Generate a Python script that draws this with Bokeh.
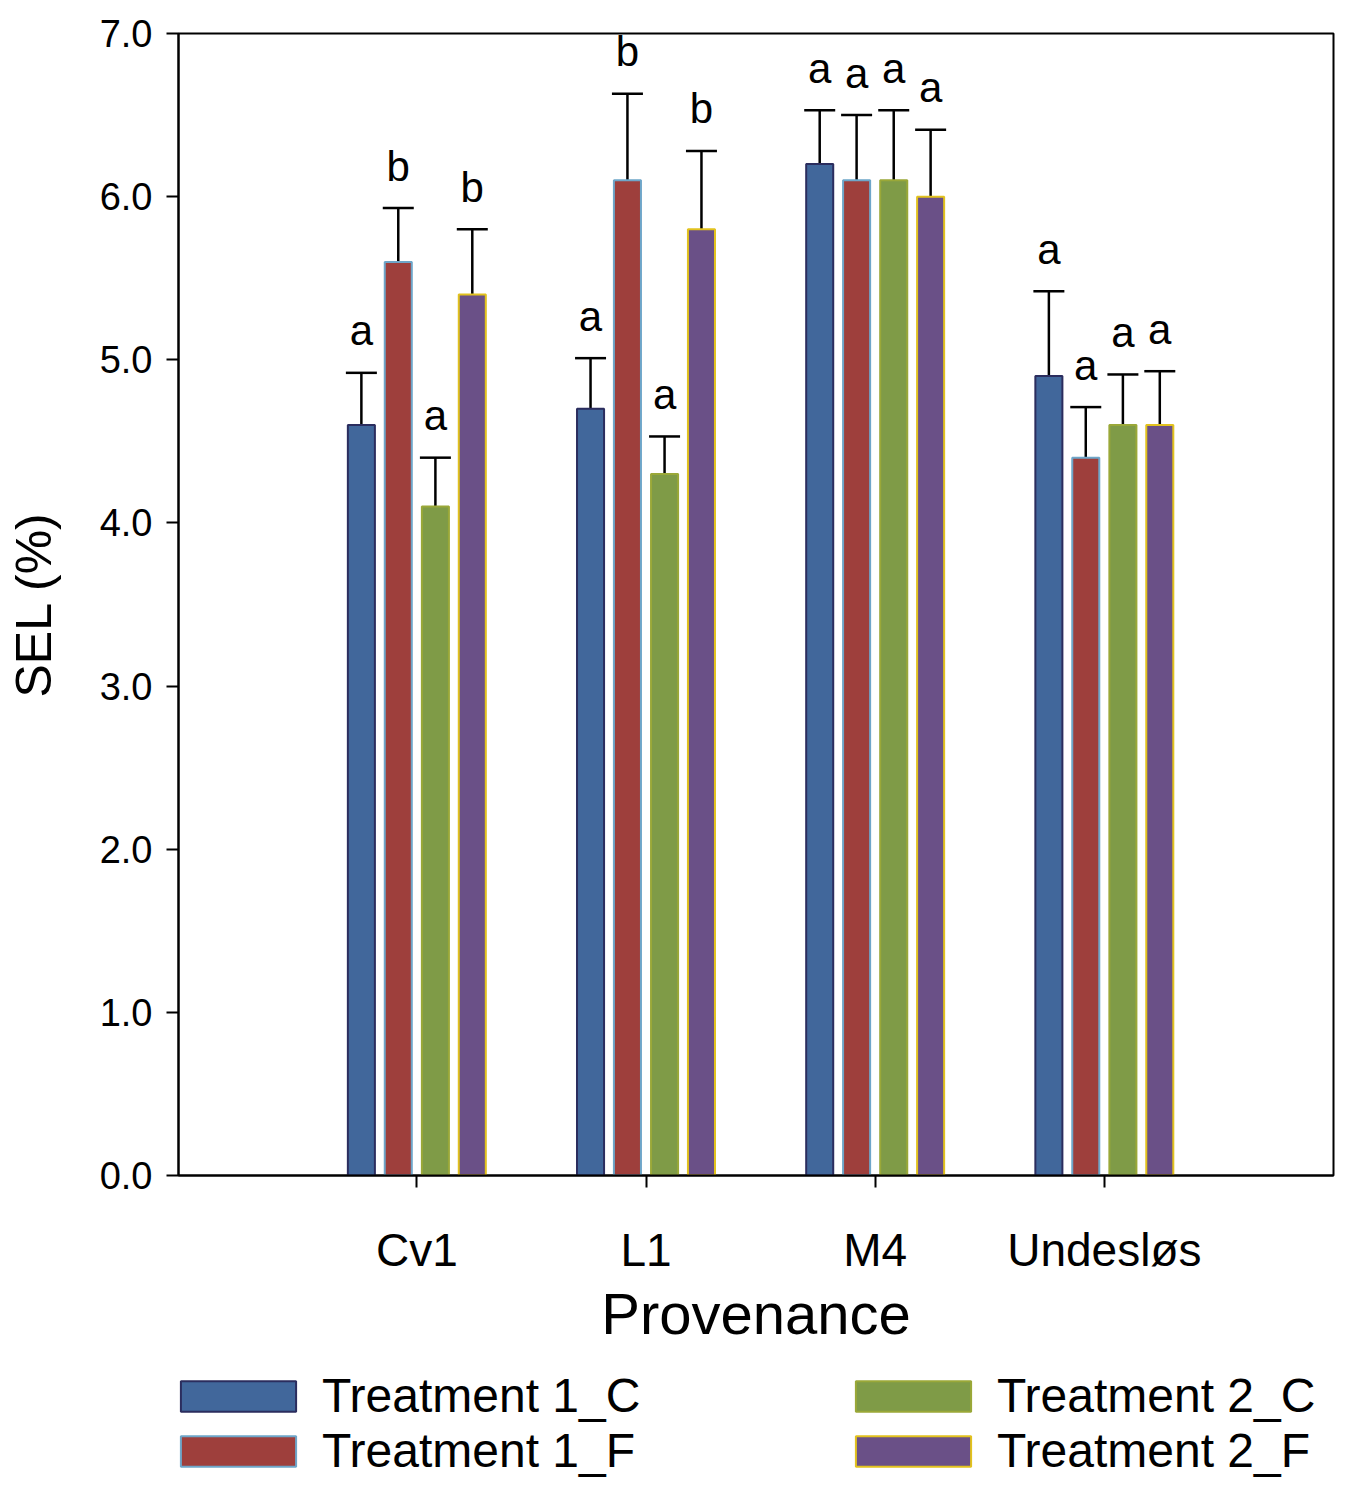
from bokeh.plotting import figure
from bokeh.layouts import column
from bokeh.models import (ColumnDataSource, Range1d, FixedTicker, Whisker, TeeHead,
                          Legend, LegendItem, NumeralTickFormatter)
from bokeh.transform import dodge
from bokeh.core.properties import value
from bokeh.embed import file_html
from bokeh.resources import INLINE

categories = ["Cv1", "L1", "M4", "Undesløs"]
treatments = ["Treatment 1_C", "Treatment 1_F", "Treatment 2_C", "Treatment 2_F"]

t1_c = [4.6, 4.7, 6.2, 4.9]
t1_f = [5.6, 6.1, 6.1, 4.4]
t2_c = [4.1, 4.3, 6.1, 4.6]
t2_f = [5.4, 5.8, 6.0, 4.6]

t1_c_err = [0.32, 0.31, 0.33, 0.52]
t1_f_err = [0.33, 0.53, 0.40, 0.31]
t2_c_err = [0.30, 0.23, 0.43, 0.31]
t2_f_err = [0.40, 0.48, 0.41, 0.33]

t1_c_letters = ["a", "a", "a", "a"]
t1_f_letters = ["b", "b", "a", "a"]
t2_c_letters = ["a", "a", "a", "a"]
t2_f_letters = ["b", "b", "a", "a"]

y_ticks = [0, 1, 2, 3, 4, 5, 6, 7]

series = [
    (t1_c, t1_c_err, t1_c_letters, "#41679b", "#2b2d5e", -0.242),
    (t1_f, t1_f_err, t1_f_letters, "#9e3f3c", "#6ea6c9", -0.081),
    (t2_c, t2_c_err, t2_c_letters, "#7f9b47", "#9aa838", 0.081),
    (t2_f, t2_f_err, t2_f_letters, "#6a5087", "#e2c21e", 0.242),
]

FONT = "Liberation Sans"

p = figure(width=1345, height=1351, output_backend="svg", toolbar_location=None,
           x_range=Range1d(-0.04, 5.0), y_range=Range1d(0, 7),
           min_border_left=178, min_border_right=12, min_border_top=33,
           min_border_bottom=176)
p.grid.visible = False
p.outline_line_color = "black"
p.outline_line_width = 2
p.background_fill_color = "white"
p.border_fill_color = "white"

# legend figure: swatches only (its renderers are hidden)
lg = figure(width=1345, height=137, output_backend="svg", toolbar_location=None,
            x_range=Range1d(0, 1), y_range=Range1d(0, 1),
            min_border_left=0, min_border_right=0,
            min_border_top=0, min_border_bottom=0)
lg.axis.visible = False
lg.grid.visible = False
lg.outline_line_color = None

pos = list(range(1, len(categories) + 1))
items = []
for (vals, errs, letters, fill, line, off), name in zip(series, treatments):
    upper = [v + e for v, e in zip(vals, errs)]
    src = ColumnDataSource(dict(pos=pos, top=vals, upper=upper, letters=letters))
    p.vbar(x=dodge("pos", off), top="top", bottom=0, width=0.118, source=src,
           fill_color=fill, line_color=line, line_width=2)
    w = Whisker(source=src, base=dodge("pos", off), lower="top", upper="upper",
                dimension="height", line_color="black", line_width=2.5,
                lower_head=None,
                upper_head=TeeHead(size=31, line_color="black", line_width=2.5))
    p.add_layout(w)
    p.text(x=dodge("pos", off), y="upper", text="letters", source=src,
           text_align="center", text_baseline="alphabetic", y_offset=-42,
           text_font=value(FONT), text_font_size="42px", text_color="black")
    r = lg.vbar(x=dodge("pos", off), top="top", bottom=0, width=0.118, source=src,
                fill_color=fill, line_color=line, line_width=2, visible=False)
    items.append(LegendItem(label=name, renderers=[r]))

# axes
p.xaxis.ticker = FixedTicker(ticks=pos)
p.xaxis.major_label_overrides = {i: c for i, c in zip(pos, categories)}
p.yaxis.ticker = FixedTicker(ticks=y_ticks)
p.yaxis.formatter = NumeralTickFormatter(format="0.0")

for ax in (p.xaxis, p.yaxis):
    ax.axis_line_color = "black"
    ax.axis_line_width = 2
    ax.major_tick_line_color = "black"
    ax.major_tick_line_width = 2
    ax.major_tick_out = 12
    ax.major_tick_in = 0
    ax.minor_tick_line_color = None
    ax.major_label_text_font = FONT
    ax.axis_label_text_font = FONT
    ax.axis_label_text_font_style = "normal"
    ax.major_label_text_color = "black"
    ax.axis_label_text_color = "black"

p.xaxis.axis_label = "Provenance"
p.xaxis.major_label_text_font_size = "46px"
p.xaxis.axis_label_text_font_size = "58px"
p.xaxis.major_label_standoff = 36
p.xaxis.axis_label_standoff = 2

p.yaxis.axis_label = "SEL (%)"
p.yaxis.major_label_text_font_size = "38px"
p.yaxis.axis_label_text_font_size = "50px"
p.yaxis.major_label_standoff = 14
p.yaxis.axis_label_standoff = 35

legend = Legend(items=items, orientation="vertical", nrows=2,
                location=(-12, 10), margin=0, padding=0,
                glyph_width=144, glyph_height=38, label_standoff=12,
                label_width=519, spacing=0,
                label_text_font=FONT, label_text_font_size="48px",
                label_text_color="black",
                border_line_color=None, background_fill_alpha=0)
lg.add_layout(legend, "center")

layout = column(p, lg, spacing=0)
open("out.html", "w").write(file_html(layout, INLINE))
